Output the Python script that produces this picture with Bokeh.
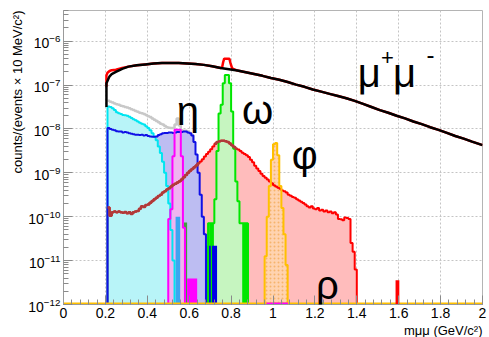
import numpy as np
from bokeh.plotting import figure
from bokeh.models import FixedTicker, SingleIntervalTicker, CustomJSTickFormatter, Label, Title
from bokeh.embed import file_html
from bokeh.resources import INLINE

FLOOR = 1e-12
BIN = 0.01

# ---------------- data (log10 of counts per 10 MeV bin) ----------------
rho_start = 0.21
rho_log10 = [
    -9.79, -9.98, -9.90, -9.88, -9.90, -9.88, -9.90, -9.91, -9.89, -9.92,
    -9.90, -9.94, -9.90, -9.88, -9.87, -9.82, -9.76, -9.78, -9.73, -9.72,
    -9.68, -9.64, -9.60, -9.57, -9.53, -9.50, -9.45, -9.42, -9.38, -9.35,
    -9.31, -9.27, -9.25, -9.22, -9.19, -9.15, -9.10, -9.05, -9.00, -8.95,
    -8.91, -8.87, -8.83, -8.78, -8.74, -8.69, -8.63, -8.57, -8.52, -8.46,
    -8.40, -8.34, -8.30, -8.28, -8.27, -8.27, -8.28, -8.30, -8.33, -8.37,
    -8.41, -8.45, -8.47, -8.50, -8.54, -8.57, -8.60, -8.64, -8.70, -8.76,
    -8.84, -8.90, -8.96, -9.02, -9.07, -9.11, -9.15, -9.20, -9.24, -9.28,
    -9.31, -9.34, -9.36, -9.40, -9.42, -9.45, -9.50, -9.52, -9.55, -9.57,
    -9.60, -9.63, -9.66, -9.69, -9.72, -9.76, -9.79, -9.76, -9.81, -9.83,
    -9.80, -9.86, -9.84, -9.88, -9.86, -9.90, -9.88, -9.92, -9.90, -9.95,
    -10.05, -10.06, -10.08, -10.02, -10.03, -10.05, -10.60, -10.80, -11.20,
]
rho_tail_left = [1.585]
rho_tail_right = [1.603]
rho_tail_log10 = [-11.45]

cyan_start = 0.21
cyan_log10 = [
    -7.49, -7.50, -7.53, -7.57, -7.62, -7.64, -7.66, -7.68, -7.69, -7.70,
    -7.72, -7.75, -7.78, -7.80, -7.83, -7.86, -7.88, -7.90, -7.94, -7.98,
    -8.03, -8.10, -8.18, -8.26, -8.40, -8.55, -8.75, -9.00, -9.30, -9.70,
    -10.30, -11.00,
]

gray_start = 0.21
gray_log10 = [
    -7.36, -7.38, -7.40, -7.42, -7.44, -7.45, -7.47, -7.48, -7.50, -7.51,
    -7.53, -7.55, -7.57, -7.59, -7.61, -7.63, -7.64, -7.66, -7.68, -7.71,
    -7.73, -7.76, -7.79, -7.82, -7.85, -7.88, -7.90, -7.93, -7.96, -7.97,
    -7.98, -7.98, -7.90, -7.76, -7.92, -8.03, -8.04, -8.04, -8.06, -8.09,
    -8.14, -8.30,
]

blue_start = 0.21
blue_log10 = [
    -7.98, -8.00, -8.02, -8.03, -8.05, -8.06, -8.06, -8.08, -8.07, -8.08,
    -8.10, -8.11, -8.12, -8.13, -8.13, -8.14, -8.13, -8.15, -8.14, -8.16,
    -8.17, -8.18, -8.18, -8.17, -8.14, -8.12, -8.10, -8.09, -8.09, -8.08,
    -8.08, -8.09, -8.08, -8.07, -8.07, -8.07, -8.06, -8.06, -8.08, -8.10,
    -8.15, -8.30, -8.58, -9.00, -9.50, -10.00, -10.40,
]

eta_start = 0.50
eta_log10 = [-10.05, -9.83, -8.62, -8.02, -8.02, -8.02, -8.62, -10.25]

omega_start = 0.69
omega_log10 = [
    -10.15, -10.15, -10.15, -9.60, -8.50, -7.65, -7.45, -6.96, -6.77, -6.77,
    -6.96, -7.60, -8.45, -9.20, -9.65, -10.15, -10.15, -10.15, -10.15,
]

phi_start = 0.96
phi_log10 = [-10.90, -10.00, -9.30, -8.70, -8.35, -8.32, -8.60, -9.30, -9.80, -10.40, -11.10]

# narrow solid bars (left, right, log10 top, colour)
bar_left = [0.535, 0.575, 0.590, 0.695, 0.853, 0.681, 0.709]
bar_right = [0.557, 0.590, 0.638, 0.718, 0.885, 0.703, 0.733]
bar_log10 = [-10.00, -10.13, -11.41, -10.15, -10.15, -10.66, -10.66]
bar_color = ["#3ca6f0", "#3f9f3f", "#ff00ff", "#00e600", "#00e600", "#0000e6", "#0000e6"]

# sum of all sources (black)
sum_mass = [0.205, 0.205, 0.215, 0.22, 0.23, 0.25, 0.28, 0.31, 0.35, 0.39, 0.43, 0.47,
            0.51, 0.55, 0.59, 0.63, 0.67, 0.71, 0.75, 0.79, 0.83, 0.87, 0.91, 0.95,
            0.99, 1.03, 1.07, 1.11, 1.15, 1.19, 1.23, 1.27, 1.31, 1.35, 1.39, 1.43,
            1.47, 1.51, 1.55, 1.59, 1.63, 1.67, 1.71, 1.75, 1.79, 1.83, 1.87, 1.91,
            1.95, 2.0]
sum_log10 = [-7.50, -6.96, -6.85, -6.80, -6.75, -6.70, -6.63, -6.58, -6.55, -6.53, -6.51, -6.50,
             -6.50, -6.50, -6.51, -6.52, -6.54, -6.57, -6.61, -6.64, -6.67, -6.71, -6.75, -6.79,
             -6.84, -6.88, -6.93, -6.99, -7.04, -7.10, -7.15, -7.20, -7.25, -7.30, -7.36, -7.43,
             -7.50, -7.57, -7.63, -7.70, -7.76, -7.83, -7.89, -7.96, -8.02, -8.09, -8.16, -8.22,
             -8.29, -8.37]
# total incl. resonances (red)
total_mass = [0.205, 0.205, 0.21, 0.22, 0.23, 0.25, 0.28, 0.31, 0.35, 0.39, 0.43, 0.47,
              0.51, 0.55, 0.59, 0.63, 0.67, 0.71, 0.75, 0.757, 0.762, 0.767, 0.792, 0.797,
              0.805, 0.83, 0.87, 0.91, 0.95, 0.99, 1.03, 1.07, 1.11, 1.15, 1.19, 1.23,
              1.27, 1.31, 1.35, 1.39, 1.43, 1.47, 1.51, 1.55, 1.59, 1.63, 1.67, 1.71,
              1.75, 1.79, 1.83, 1.87, 1.91, 1.95, 2.0]
total_log10 = [-7.04, -6.78, -6.72, -6.68, -6.66, -6.65, -6.61, -6.58, -6.55, -6.53, -6.51, -6.50,
               -6.50, -6.50, -6.51, -6.52, -6.54, -6.57, -6.61, -6.60, -6.48, -6.40, -6.40, -6.50,
               -6.62, -6.67, -6.71, -6.75, -6.79, -6.84, -6.88, -6.93, -6.99, -7.04, -7.10, -7.15,
               -7.20, -7.25, -7.30, -7.36, -7.43, -7.50, -7.57, -7.63, -7.70, -7.76, -7.83, -7.89,
               -7.96, -8.02, -8.09, -8.16, -8.22, -8.29, -8.37]

y_ticks = [1e-12, 1e-11, 1e-10, 1e-9, 1e-8, 1e-7, 1e-6]


def hist_vertices(start, logs, close=True):
    xs, ys = [], []
    if close:
        xs.append(start)
        ys.append(FLOOR)
    for i, v in enumerate(logs):
        left = start + i * BIN
        xs += [left, left + BIN]
        ys += [10.0 ** v, 10.0 ** v]
    if close:
        xs.append(start + len(logs) * BIN)
        ys.append(FLOOR)
    return xs, ys


FONT = "Liberation Sans"

p = figure(width=489, height=337, x_range=(0, 2), y_range=(1e-12, 5e-6),
           y_axis_type="log", output_backend="svg", toolbar_location=None,
           min_border_left=63, min_border_right=7, min_border_top=10, min_border_bottom=31)
p.background_fill_color = "white"
p.border_fill_color = "white"
p.outline_line_color = "#b4b4b4"

# axes
p.xaxis.ticker = SingleIntervalTicker(interval=0.2, num_minor_ticks=5)
p.xaxis.formatter = CustomJSTickFormatter(code="return String(Math.round(tick*10)/10);")
minor_y = [m * 10.0 ** e for e in range(-12, -5) for m in range(2, 10)]
p.yaxis.ticker = FixedTicker(ticks=y_ticks, minor_ticks=minor_y)
for ax in (p.xaxis[0], p.yaxis[0]):
    ax.major_tick_in = 9
    ax.major_tick_out = 0
    ax.minor_tick_in = 5
    ax.minor_tick_out = 0
    ax.axis_line_color = "#9a9a9a"
    ax.major_tick_line_color = "#8a8a8a"
    ax.minor_tick_line_color = "#8a8a8a"
    ax.major_label_text_font = FONT
    ax.major_label_text_color = "black"
    ax.major_label_standoff = 3
p.xaxis.major_label_text_font_size = "14px"
p.yaxis.major_label_text_font_size = "14px"

for g in (p.xgrid[0], p.ygrid[0]):
    g.grid_line_color = "#c4c4c4"
    g.grid_line_dash = "2 2"
    g.grid_line_width = 1

# axis titles, aligned to the axis ends as in ROOT
p.add_layout(Title(text="counts/(events × 10 MeV/c²)", align="right", text_font=FONT,
                   text_font_size="13px", text_font_style="normal", text_color="black",
                   standoff=2), "left")
p.add_layout(Title(text="mμμ (GeV/c²)", align="right", text_font=FONT,
                   text_font_size="13px", text_font_style="normal", text_color="black",
                   standoff=0, offset=0), "below")

# ---------------- fills ----------------
rx, ry = hist_vertices(rho_start, rho_log10)
p.patch(rx, ry, fill_color="#ffbcbc", line_color=None)
bx, by = hist_vertices(blue_start, blue_log10)
p.patch(bx, by, fill_color="#bdbdf2", line_color=None)
cx, cy = hist_vertices(cyan_start, cyan_log10)
p.patch(cx, cy, fill_color="#b8f4f8", line_color=None)
ex, ey = hist_vertices(eta_start, eta_log10)
p.patch(ex, ey, fill_color="#f0b4f0", line_color=None)
ox, oy = hist_vertices(omega_start, omega_log10)
p.patch(ox, oy, fill_color="#c6f5c0", line_color=None)
fx, fy = hist_vertices(phi_start, phi_log10)
p.patch(fx, fy, fill_color="#ffd3b0", line_color=None,
        hatch_pattern="dot", hatch_color="#f0a040", hatch_scale=4, hatch_alpha=0.6)

# solid narrow bars
p.quad(left=bar_left, right=bar_right, bottom=FLOOR,
       top=[10.0 ** v for v in bar_log10], fill_color=bar_color, line_color=None)

# ---------------- outlines ----------------
p.line(rx, ry, line_color="#ff0000", line_width=2)
gx, gy = hist_vertices(gray_start, gray_log10, close=False)
p.line(gx, gy, line_color="#c8c8c8", line_width=2.5)
p.line(cx, cy, line_color="#00e5f0", line_width=2)
p.line(bx, by, line_color="#1010e6", line_width=2)
p.line(ex, ey, line_color="#ff00ff", line_width=2)
p.line(ox, oy, line_color="#00e600", line_width=2)
p.line(fx, fy, line_color="#ffc000", line_width=2)

# brown overlay of the rho (low mass part and peak)
brown_a = hist_vertices(rho_start, rho_log10[:44], close=False)
brown_b = hist_vertices(rho_start + 51 * BIN, rho_log10[51:62], close=False)
p.line(brown_a[0], brown_a[1], line_color="#b03a3a", line_width=2.5)
p.line(brown_b[0], brown_b[1], line_color="#b03a3a", line_width=2.5)

# floor lines
p.line([0, 2], [FLOOR, FLOOR], line_color="#ffc000", line_width=4)
p.line([0.969, 1.072], [FLOOR, FLOOR], line_color="#ff00ff", line_width=4)

# rho tail bin at 1.6
p.quad(left=rho_tail_left, right=rho_tail_right, bottom=FLOOR,
       top=[10.0 ** v for v in rho_tail_log10], fill_color="#ff0000", line_color=None)

# totals
p.line(total_mass, [10.0 ** v for v in total_log10], line_color="#ff0000", line_width=2.5)
p.line(sum_mass, [10.0 ** v for v in sum_log10], line_color="#000000", line_width=2.5)


# ---------------- labels ----------------
def lab(x, ylog, text, size, align="left", baseline="alphabetic", xo=0, yo=0):
    p.add_layout(Label(x=x, y=10.0 ** ylog, text=text, text_font=FONT,
                       text_font_size=size, text_align=align, text_baseline=baseline,
                       x_offset=xo, y_offset=yo, text_color="black"))


lab(0.540, -7.58, "η", "40px")
lab(0.852, -7.57, "ω", "40px")
lab(1.090, -8.60, "φ", "40px")
lab(1.205, -11.55, "ρ", "40px")
lab(1.405, -6.73, "μ", "40px")
lab(1.516, -6.38, "+", "22px")
lab(1.573, -6.73, "μ", "40px")
lab(1.733, -6.30, "-", "24px")

open("out.html", "w").write(file_html(p, INLINE))
